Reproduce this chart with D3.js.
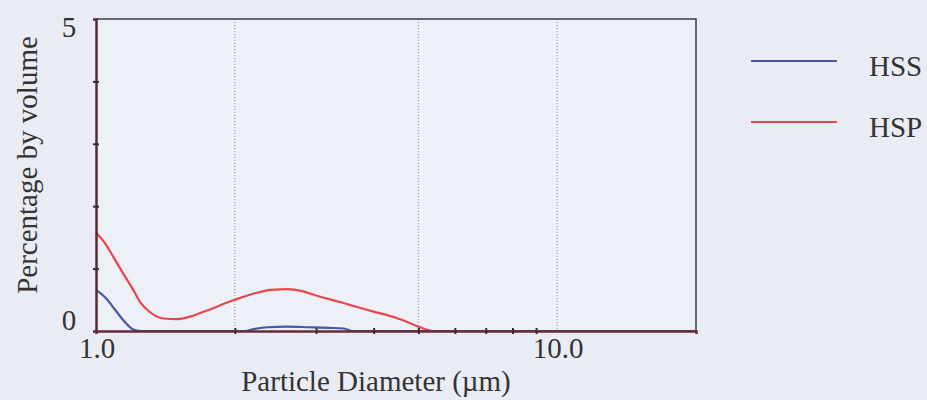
<!DOCTYPE html>
<html><head><meta charset="utf-8">
<script src="https://cdn.jsdelivr.net/npm/d3@7"></script>
<style>body{margin:0;background:#eaecf5;}svg{display:block;}</style>
</head><body>
<svg id="c" width="927" height="400"></svg>
<script>
const hspDiam = [1.0,1.05,1.1,1.15,1.2,1.25,1.3,1.4,1.5,1.6,1.7,1.8,1.9,2.0,2.2,2.4,2.6,2.8,3.0,3.4,3.7,4.0,4.3,4.6,5.0,5.4,6,8,10,15,20];
const hspVals = [1.58,1.39,1.14,0.90,0.68,0.45,0.32,0.2,0.19,0.23,0.30,0.37,0.44,0.50,0.60,0.66,0.67,0.64,0.57,0.46,0.38,0.31,0.25,0.18,0.07,0,0,0,0,0,0];
const hssDiam = [1.0,1.05,1.1,1.15,1.2,1.25,1.5,2.1,2.2,2.35,2.6,2.9,3.2,3.45,3.6,5,10,20];
const hssVals = [0.66,0.53,0.34,0.16,0.03,0,0,0,0.03,0.06,0.07,0.06,0.05,0.04,0,0,0,0];
const xTickLabels = [1, 10];
const xGrid = [2, 5, 10];
const xMinor = [2,3,4,5,6,7,8,9];
const yTickLabels = [0, 5];
const yMinor = [1,2,3,4];
const seriesNames = ["HSS", "HSP"];
const seriesColors = ["#4a55a3", "#e8474f"];

const svg = d3.select("#c");
const L = 96, R = 696, T = 19, B = 331;
const x = d3.scaleLog().domain([1, 20]).range([L, R]);
const y = d3.scaleLinear().domain([0, 5]).range([B, T]);
const font = "'Liberation Serif','Times New Roman',serif";
const fs = 29;

// plot background
svg.append("rect").attr("x", L).attr("y", T).attr("width", R - L).attr("height", B - T).attr("fill", "#eef0f8");

// dotted gridlines
svg.selectAll(".grid").data(xGrid).enter().append("line")
  .attr("x1", d => x(d)).attr("x2", d => x(d)).attr("y1", T).attr("y2", B)
  .attr("stroke", "#8a8a90").attr("stroke-width", 1).attr("stroke-dasharray", "1,2");

// top & right border
svg.append("path").attr("d", `M${L},${T}H${R}V${B}`).attr("fill", "none").attr("stroke", "#3a3a44").attr("stroke-width", 1.5);

// series lines
const line = d3.line().x(d => x(d[0])).y(d => y(d[1])).curve(d3.curveMonotoneX);
const hss = hssDiam.map((d, i) => [d, hssVals[i]]);
const hsp = hspDiam.map((d, i) => [d, hspVals[i]]);
svg.append("path").datum(hsp).attr("d", line).attr("fill", "none").attr("stroke", seriesColors[1]).attr("stroke-width", 2.2);
svg.append("path").datum(hss).attr("d", line).attr("fill", "none").attr("stroke", seriesColors[0]).attr("stroke-width", 2.2);

// axes
const xAxis = d3.axisBottom(x).tickValues(xMinor).tickSize(3).tickFormat("");
const gx = svg.append("g").attr("transform", `translate(0,${B})`).call(xAxis);
gx.select(".domain").attr("stroke", "#6b2a36").attr("stroke-width", 2.5);
gx.selectAll(".tick line").attr("stroke", "#3a2a34").attr("stroke-width", 2).attr("y1", -3).attr("y2", 3);

const gy = svg.append("g").attr("transform", `translate(${L},0)`).call(d3.axisLeft(y).tickValues(yMinor).tickSize(3).tickFormat(""));
gy.select(".domain").attr("stroke", "#5a2a34").attr("stroke-width", 2.5);
gy.selectAll(".tick line").attr("stroke", "#3a2a34").attr("stroke-width", 2).attr("x1", -3).attr("x2", 3);

// tick labels
svg.selectAll(".xl").data(xTickLabels).enter().append("text")
  .attr("x", d => x(d) + 1).attr("y", 358).attr("text-anchor", "middle")
  .attr("font-family", font).attr("font-size", fs).attr("fill", "#333")
  .text(d => d.toFixed(1));
svg.selectAll(".yl").data(yTickLabels).enter().append("text")
  .attr("x", 69).attr("y", d => d === 0 ? y(d) - 1 : y(d) + 18).attr("text-anchor", "middle")
  .attr("font-family", font).attr("font-size", fs).attr("fill", "#333")
  .text(d => d);

// axis titles
svg.append("text").attr("x", 376).attr("y", 391).attr("text-anchor", "middle")
  .attr("font-family", font).attr("font-size", fs).attr("fill", "#333").text("Particle Diameter (µm)");
svg.append("text").attr("transform", "translate(37,165) rotate(-90)").attr("text-anchor", "middle")
  .attr("font-family", font).attr("font-size", fs).attr("fill", "#333").text("Percentage by volume");

// legend
const lg = svg.selectAll(".lg").data(seriesNames).enter().append("g")
  .attr("transform", (d, i) => `translate(0,${61 + i * 61})`);
lg.append("line").attr("x1", 751).attr("x2", 837).attr("y1", 0).attr("y2", 0)
  .attr("stroke", (d, i) => seriesColors[i]).attr("stroke-width", 2);
lg.append("text").attr("x", 869).attr("y", 15).attr("font-family", font).attr("font-size", fs)
  .attr("fill", "#333").text(d => d);
</script>
</body></html>
